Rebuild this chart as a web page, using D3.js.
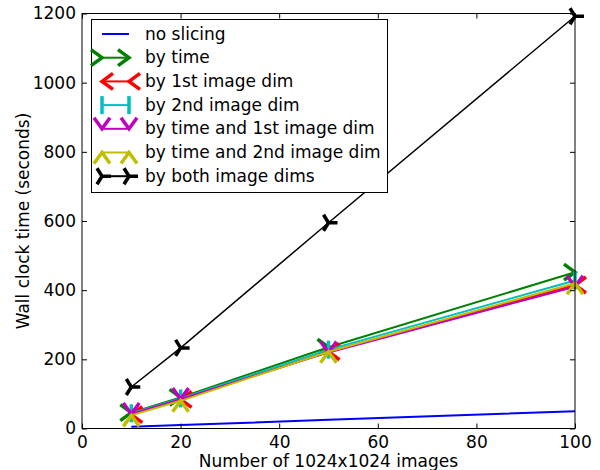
<!DOCTYPE html>
<html>
<head>
<meta charset="utf-8">
<script src="https://cdn.jsdelivr.net/npm/d3@7"></script>
<style>
  body { margin: 0; background: #fff; }
  text { font-family: "DejaVu Sans", sans-serif; }
</style>
</head>
<body>
<div id="chart"></div>
<script>
// image counts on the x axis
let imageCounts = [10, 20, 50, 100];
let seriesNames = ["no slicing", "by time", "by 1st image dim", "by 2nd image dim",
                   "by time and 1st image dim", "by time and 2nd image dim", "by both image dims"];
let noSlicing = [5, 10, 25, 50];
let byTime = [46, 90, 235, 452];
let byDim1 = [40, 84, 222, 415];
let byDim2 = [44, 87, 228, 428];
let byTimeDim1 = [42, 85, 220, 410];
let byTimeDim2 = [38, 80, 222, 420];
let byBoth = [120, 233, 595, 1192];
let xTicks = [0, 20, 40, 60, 80, 100];
let yTicks = [0, 200, 400, 600, 800, 1000, 1200];

const series = [
    {name: seriesNames[0], values: noSlicing, color: '#0000ff', marker: null},
    {name: seriesNames[1], values: byTime, color: '#008000', marker: 'right'},
    {name: seriesNames[2], values: byDim1, color: '#ff0000', marker: 'left'},
    {name: seriesNames[3], values: byDim2, color: '#00bfbf', marker: 'vbar'},
    {name: seriesNames[4], values: byTimeDim1, color: '#bf00bf', marker: 'down'},
    {name: seriesNames[5], values: byTimeDim2, color: '#bfbf00', marker: 'up'},
    {name: seriesNames[6], values: byBoth, color: '#000000', marker: 'tri'}
];

function markerPath(kind) {
    if (kind == 'right') return 'M-11,-8L0,0L-11,8';
    if (kind == 'left') return 'M11,-8L0,0L11,8';
    if (kind == 'down') return 'M-8,-11L0,0L8,-11';
    if (kind == 'up') return 'M-8,11L0,0L8,11';
    if (kind == 'vbar') return 'M0,-9L0,9';
    if (kind == 'tri') return 'M0,0L9,0M0,0L-5,-8M0,0L-5,8';
    return '';
}

const width = 600, height = 470;
const margin = {left: 82, right: 25, top: 13.5, bottom: 41.5};
const x = d3.scaleLinear().domain([0, 100]).range([margin.left, width - margin.right]);
const y = d3.scaleLinear().domain([0, 1200]).range([height - margin.bottom, margin.top]);
const fs = 17;

const svg = d3.select('#chart').append('svg').attr('width', width).attr('height', height);

// series lines and markers
const line = d3.line().x((d, i) => x(imageCounts[i])).y(d => y(d));
series.forEach(s => {
    svg.append('path').attr('d', line(s.values)).attr('fill', 'none')
        .attr('stroke', s.color).attr('stroke-width', s.marker == 'tri' ? 1.5 : 2);
    if (s.marker) {
        svg.selectAll(null).data(s.values).enter().append('path')
            .attr('d', markerPath(s.marker))
            .attr('transform', (d, i) => `translate(${x(imageCounts[i])},${y(d)})`)
            .attr('fill', 'none').attr('stroke', s.color).attr('stroke-width', 3.5);
    }
});

// axes with inward ticks on all four sides
svg.append('g').attr('transform', `translate(0,${y(0)})`)
    .call(d3.axisBottom(x).tickValues(xTicks).tickFormat(d3.format('d')).tickSizeInner(-5).tickSizeOuter(0).tickPadding(7));
svg.append('g').attr('transform', `translate(${x(0)},0)`)
    .call(d3.axisLeft(y).tickValues(yTicks).tickFormat(d3.format('d')).tickSizeInner(-5).tickSizeOuter(0).tickPadding(6));
svg.append('g').attr('transform', `translate(0,${y(1200)})`)
    .call(d3.axisTop(x).tickValues(xTicks).tickSizeInner(-5).tickSizeOuter(0).tickFormat(''));
svg.append('g').attr('transform', `translate(${x(100)},0)`)
    .call(d3.axisRight(y).tickValues(yTicks).tickSizeInner(-5).tickSizeOuter(0).tickFormat(''));
svg.selectAll('.domain').remove();
svg.selectAll('.tick text').attr('font-size', fs).attr('fill', '#000')
    .attr('font-family', '"DejaVu Sans", sans-serif');
svg.append('rect').attr('x', x(0)).attr('y', y(1200)).attr('width', x(100) - x(0))
    .attr('height', y(0) - y(1200)).attr('fill', 'none').attr('stroke', '#000').attr('stroke-width', 1);

// axis titles
svg.append('text').attr('x', (x(0) + x(100)) / 2).attr('y', 467).attr('text-anchor', 'middle')
    .attr('font-size', fs).text('Number of 1024x1024 images');
svg.append('text').attr('transform', `translate(29,${(y(0) + y(1200)) / 2}) rotate(-90)`)
    .attr('text-anchor', 'middle').attr('font-size', fs).text('Wall clock time (seconds)');

// legend
const legend = svg.append('g');
legend.append('rect').attr('x', 91.5).attr('y', 19.5).attr('width', 296).attr('height', 173)
    .attr('fill', '#fff').attr('stroke', '#000').attr('stroke-width', 1);
series.forEach((s, i) => {
    const ly = 34 + i * 23.7;
    legend.append('line').attr('x1', 102).attr('x2', 129).attr('y1', ly).attr('y2', ly)
        .attr('stroke', s.color).attr('stroke-width', 2);
    if (s.marker) {
        [102, 129].forEach(mx => {
            legend.append('path').attr('d', markerPath(s.marker))
                .attr('transform', `translate(${mx},${ly})`)
                .attr('fill', 'none').attr('stroke', s.color).attr('stroke-width', 3.5);
        });
    }
    legend.append('text').attr('x', 145).attr('y', ly + 5.5).attr('font-size', fs).text(s.name);
});
</script>
</body>
</html>
